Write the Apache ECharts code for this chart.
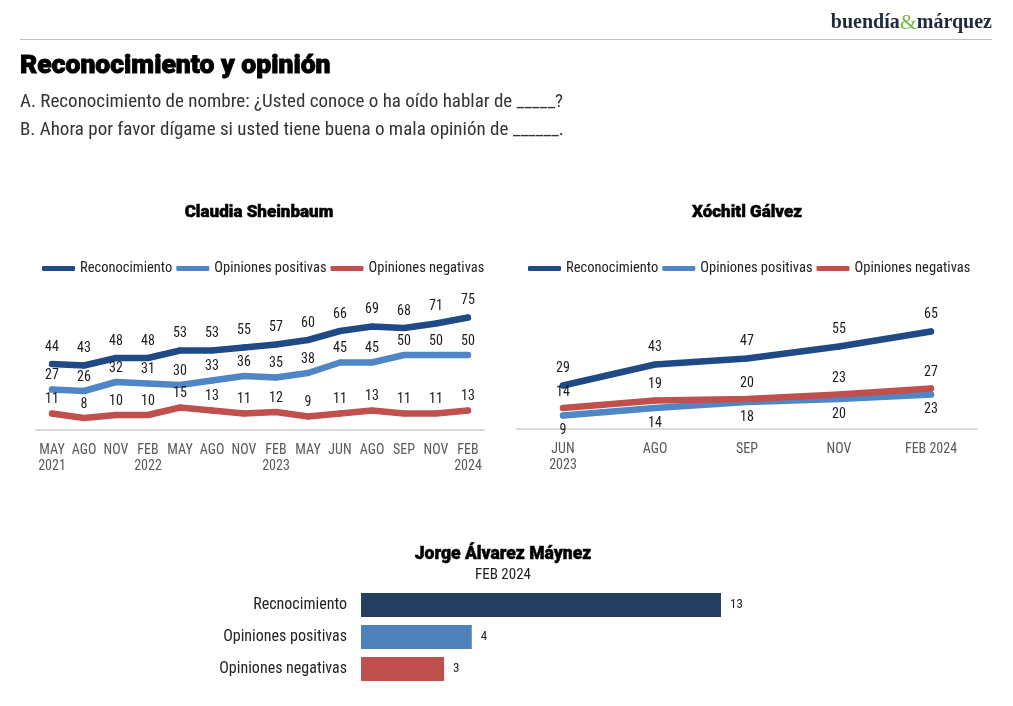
<!DOCTYPE html>
<html>
<head>
<meta charset="utf-8">
<script src="https://cdn.jsdelivr.net/npm/echarts@6/dist/echarts.min.js"></script>
<style>
html,body{margin:0;padding:0;background:#fff;}
#main{width:1013px;height:706px;}
</style>
</head>
<body>
<div id="main"></div>
<script>
// ---- Data ----
const seriesNames = ['Reconocimiento', 'Opiniones positivas', 'Opiniones negativas'];

const sheinbaumCats = ['MAY\n2021', 'AGO', 'NOV', 'FEB\n2022', 'MAY', 'AGO', 'NOV', 'FEB\n2023', 'MAY', 'JUN', 'AGO', 'SEP', 'NOV', 'FEB\n2024'];
const sheinbaumRecon = [44, 43, 48, 48, 53, 53, 55, 57, 60, 66, 69, 68, 71, 75];
const sheinbaumPos = [27, 26, 32, 31, 30, 33, 36, 35, 38, 45, 45, 50, 50, 50];
const sheinbaumNeg = [11, 8, 10, 10, 15, 13, 11, 12, 9, 11, 13, 11, 11, 13];

const galvezCats = ['JUN\n2023', 'AGO', 'SEP', 'NOV', 'FEB 2024'];
const galvezRecon = [29, 43, 47, 55, 65];
const galvezPos = [9, 14, 18, 20, 23];
const galvezNeg = [14, 19, 20, 23, 27];

const maynezCats = ['Recnocimiento', 'Opiniones positivas', 'Opiniones negativas'];
const maynezVals = [13, 4, 3];

// ---- Style ----
const FONT = "'Roboto Condensed', Roboto, 'Liberation Sans', sans-serif";
const C_DARK = '#1f4a86';
const C_BLUE = '#4f86c6';
const C_RED = '#c0504d';
const BAR_COLORS = ['#243f60', '#4f81bd', '#c0504d'];

function lineSeries(name, data, color, xi, labelPos, dist) {
  return {
    name: name, type: 'line', xAxisIndex: xi, yAxisIndex: xi, data: data,
    symbol: 'circle', symbolSize: 6, showSymbol: true,
    itemStyle: { color: color },
    lineStyle: { color: color, width: 6.5, cap: 'round', join: 'round' },
    label: { show: true, position: labelPos, distance: dist, color: '#1a1a1a', fontSize: 14, fontFamily: FONT },
    emphasis: { disabled: true },
    z: 3
  };
}

function catAxis(idx, cats) {
  return {
    type: 'category', gridIndex: idx, data: cats, boundaryGap: true,
    axisLine: { show: true, lineStyle: { color: '#d9d9d9', width: 2 } },
    axisTick: { show: false },
    axisLabel: { interval: 0, color: '#595959', fontSize: 14, fontFamily: FONT, lineHeight: 16, margin: 12 }
  };
}
function valAxis(idx) {
  return { type: 'value', gridIndex: idx, min: 0, max: 100, show: false, splitLine: { show: false } };
}

const legendCommon = {
  itemWidth: 33, itemHeight: 5, itemGap: 4, icon: 'roundRect',
  textStyle: { color: '#222', fontSize: 14.5, fontFamily: FONT },
  data: seriesNames, selectedMode: false
};

const TITLE_FONT = "Roboto, 'Liberation Sans', sans-serif";

const chart = echarts.init(document.getElementById('main'), null, { renderer: 'canvas' });
chart.setOption({
  backgroundColor: '#fff',
  animation: false,
  legend: [
    Object.assign({}, legendCommon, { left: 37, top: 256 }),
    Object.assign({}, legendCommon, { left: 523, top: 256 })
  ],
  grid: [
    { left: 36, width: 448, top: 280, height: 150 },
    { left: 517, width: 460, top: 279, height: 150 },
    { left: 361, width: 360, top: 589, height: 96 }
  ],
  xAxis: [
    catAxis(0, sheinbaumCats),
    catAxis(1, galvezCats),
    { type: 'value', gridIndex: 2, min: 0, max: 13, show: false, splitLine: { show: false } }
  ],
  yAxis: [
    valAxis(0),
    valAxis(1),
    {
      type: 'category', gridIndex: 2, data: maynezCats, inverse: true,
      axisLine: { show: false }, axisTick: { show: false },
      axisLabel: { color: '#222', fontSize: 16, fontFamily: FONT, margin: 14 }
    }
  ],
  series: [
    lineSeries(seriesNames[2], sheinbaumNeg, C_RED, 0, 'top', 4),
    lineSeries(seriesNames[1], sheinbaumPos, C_BLUE, 0, 'top', 4),
    lineSeries(seriesNames[0], sheinbaumRecon, C_DARK, 0, 'top', 7),
    lineSeries(seriesNames[1], galvezPos, C_BLUE, 1, 'bottom', 5),
    lineSeries(seriesNames[2], galvezNeg, C_RED, 1, 'top', 6),
    lineSeries(seriesNames[0], galvezRecon, C_DARK, 1, 'top', 7),
    {
      name: 'Jorge Álvarez Máynez', type: 'bar', xAxisIndex: 2, yAxisIndex: 2,
      data: maynezVals.map((v, i) => ({ value: v, itemStyle: { color: BAR_COLORS[i] } })),
      barWidth: 24,
      label: { show: true, position: 'right', distance: 9, color: '#222', fontSize: 13, fontFamily: FONT },
      emphasis: { disabled: true }
    }
  ],
  graphic: [
    { type: 'line', shape: { x1: 20, y1: 39.5, x2: 992, y2: 39.5 }, style: { stroke: '#bfbfbf', lineWidth: 1 } },
    {
      type: 'text', x: 992, y: 23,
      style: {
        text: '{a|buendía}{b|&}{a|márquez}', align: 'right', verticalAlign: 'middle',
        rich: {
          a: { fontFamily: "'Liberation Serif', 'DejaVu Serif', serif", fontSize: 20, fontWeight: 'bold', fill: '#1e2b3c' },
          b: { fontFamily: "'Liberation Serif', 'DejaVu Serif', serif", fontSize: 22, fill: '#7ab648' }
        }
      }
    },
    { type: 'text', x: 20, y: 66, style: { text: 'Reconocimiento y opinión', font: "900 26.5px " + TITLE_FONT, fill: '#000', stroke: '#000', lineWidth: 0.9, verticalAlign: 'middle' } },
    { type: 'text', x: 20, y: 102, style: { text: 'A. Reconocimiento de nombre: ¿Usted conoce o ha oído hablar de _____?', font: "19px " + FONT, fill: '#333', verticalAlign: 'middle' } },
    { type: 'text', x: 20, y: 130, style: { text: 'B. Ahora por favor dígame si usted tiene buena o mala opinión de ______.', font: "19px " + FONT, fill: '#333', verticalAlign: 'middle' } },
    { type: 'text', x: 259, y: 213, style: { text: 'Claudia Sheinbaum', font: "900 17px " + TITLE_FONT, fill: '#000', stroke: '#000', lineWidth: 0.5, align: 'center', verticalAlign: 'middle' } },
    { type: 'text', x: 747, y: 213, style: { text: 'Xóchitl Gálvez', font: "900 17px " + TITLE_FONT, fill: '#000', stroke: '#000', lineWidth: 0.5, align: 'center', verticalAlign: 'middle' } },
    { type: 'text', x: 503, y: 555, style: { text: 'Jorge Álvarez Máynez', font: "900 17.5px " + TITLE_FONT, fill: '#000', stroke: '#000', lineWidth: 0.5, align: 'center', verticalAlign: 'middle' } },
    { type: 'text', x: 503, y: 575, style: { text: 'FEB 2024', font: "15px " + FONT, fill: '#222', align: 'center', verticalAlign: 'middle' } }
  ]
});
</script>
</body>
</html>
